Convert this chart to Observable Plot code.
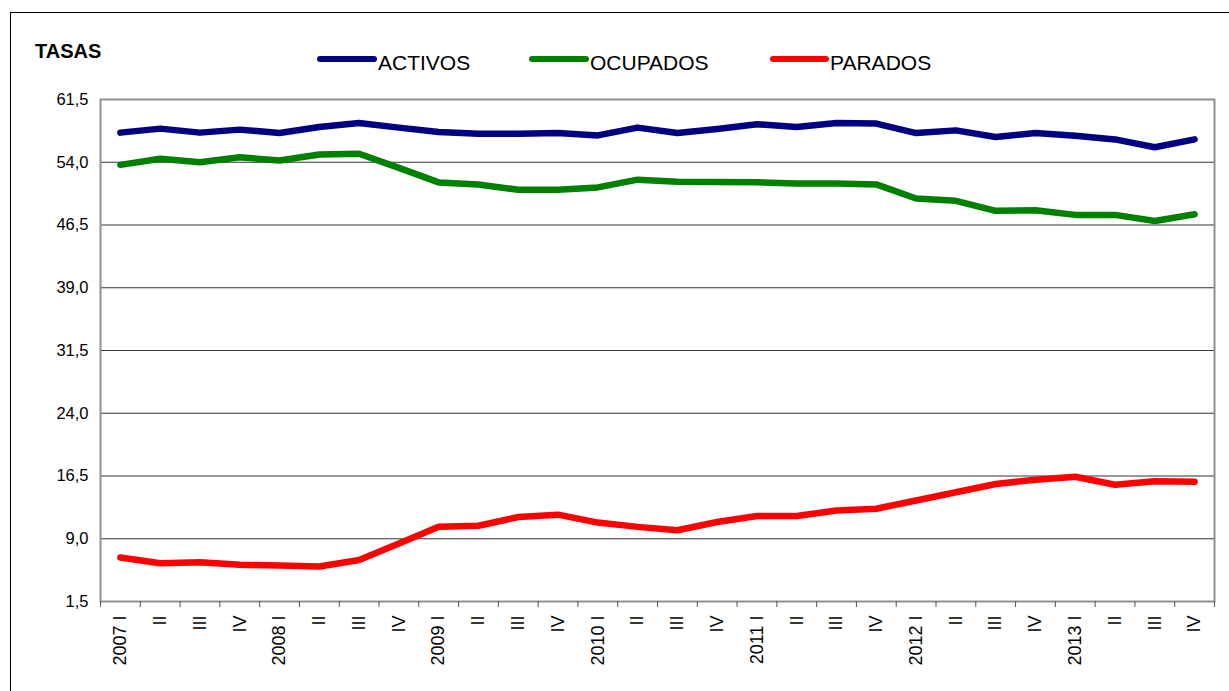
<!DOCTYPE html>
<html>
<head>
<meta charset="utf-8">
<script src="https://cdn.jsdelivr.net/npm/d3@7"></script>
<script src="https://cdn.jsdelivr.net/npm/@observablehq/plot@0.6"></script>
<style>
  html, body { margin: 0; padding: 0; background: #fff; overflow: hidden; }
  body { width: 1229px; height: 691px; position: relative; font-family: "Liberation Sans", Arial, sans-serif; color: #000; }
  #header { position: relative; height: 80px; }
  .outer { position: absolute; left: 10px; top: 12px; width: 1400px; height: 900px; border: 1.5px solid #000; box-sizing: border-box; pointer-events: none; z-index: 5; }
  #title { position: absolute; left: 35px; top: 41px; font-size: 20px; font-weight: bold; line-height: 20px; white-space: nowrap; }
  .sw { position: absolute; height: 6px; border-radius: 3px; top: 56px; }
  .lt { position: absolute; top: 52px; font-size: 21px; line-height: 21px; white-space: nowrap; }
  #chart svg { display: block; }
</style>
</head>
<body>
<div class="outer"></div>
<div id="header">
  <div id="title">TASAS</div>
</div>
<div id="chart"></div>
<script>
// ---- data ----
const quarters = [
  "2007 I", "II", "III", "IV",
  "2008 I", "II", "III", "IV",
  "2009 I", "II", "III", "IV",
  "2010 I", "II", "III", "IV",
  "2011 I", "II", "III", "IV",
  "2012 I", "II", "III", "IV",
  "2013 I", "II", "III", "IV"
];
const seriesNames = ["ACTIVOS", "OCUPADOS", "PARADOS"];
const seriesColors = ["#000080", "#008000", "#FF0000"];
const activos = [57.54, 58.02, 57.54, 57.90, 57.49, 58.21, 58.69, 58.14, 57.61, 57.42, 57.42, 57.49, 57.21, 58.14,
                 57.49, 57.97, 58.54, 58.21, 58.69, 58.62, 57.49, 57.81, 57.01, 57.49, 57.17, 56.73, 55.80, 56.73];
const ocupados = [53.69, 54.41, 54.00, 54.60, 54.20, 54.93, 55.01, 53.33, 51.59, 51.35, 50.71, 50.71, 50.99, 51.92,
                  51.68, 51.65, 51.60, 51.45, 51.45, 51.35, 49.67, 49.39, 48.19, 48.27, 47.71, 47.71, 46.98, 47.79];
const parados = [6.75, 6.08, 6.20, 5.88, 5.80, 5.69, 6.47, 8.44, 10.42, 10.55, 11.60, 11.88, 10.93, 10.42,
                 10.02, 11.00, 11.72, 11.72, 12.38, 12.59, 13.57, 14.56, 15.54, 16.05, 16.41, 15.46, 15.86, 15.82];
const yTicks = [1.5, 9.0, 16.5, 24.0, 31.5, 39.0, 46.5, 54.0, 61.5];

// ---- build table ----
const seriesValues = [activos, ocupados, parados];
const rows = [];
seriesNames.forEach((name, s) => seriesValues[s].forEach((v, i) => rows.push({ i, v, name })));
const idx = quarters.map((_, i) => i);
const bounds = quarters.map((_, i) => i - 0.5).concat([quarters.length - 0.5]);

// ---- legend ----
const header = document.getElementById("header");
const legendPos = [[317, 378], [529, 590], [770, 830]];
seriesNames.forEach((name, s) => {
  const sw = document.createElement("div");
  sw.className = "sw";
  sw.style.left = legendPos[s][0] + "px";
  sw.style.width = (legendPos[s][1] - legendPos[s][0] - 1) + "px";
  sw.style.background = seriesColors[s];
  header.appendChild(sw);
  const t = document.createElement("div");
  t.className = "lt";
  t.style.left = legendPos[s][1] + "px";
  t.textContent = name;
  header.appendChild(t);
});

// ---- chart ----
const chart = Plot.plot({
  width: 1229,
  height: 611,
  marginLeft: 100,
  marginRight: 15,
  marginTop: 19,
  marginBottom: 90,
  x: { type: "linear", domain: [-0.5, quarters.length - 0.5], label: null },
  y: { domain: [1.5, 61.5], label: null },
  color: { domain: seriesNames, range: seriesColors },
  style: { fontFamily: "'Liberation Sans', Arial, sans-serif", color: "#000", background: "transparent" },
  marks: [
    Plot.ruleY(yTicks.slice(1, -1), { stroke: "#333", strokeWidth: 1 }),
    Plot.frame({ stroke: "#909090", strokeWidth: 2 }),
    Plot.axisY(yTicks, { tickSize: 0, tickPadding: 12, fontSize: 16.5, tickFormat: d => d.toFixed(1).replace(".", ",") }),
    Plot.axisX(bounds, { tickSize: 6, tickFormat: () => "", stroke: "#555" }),
    Plot.axisX(idx, { tickSize: 0, tickPadding: 14, tickRotate: -90, fontSize: 18, tickFormat: i => quarters[i] }),
    Plot.line(rows, { x: "i", y: "v", z: "name", stroke: "name", strokeWidth: 6.5, strokeLinecap: "round", strokeLinejoin: "round" })
  ]
});
document.getElementById("chart").appendChild(chart);
</script>
</body>
</html>
